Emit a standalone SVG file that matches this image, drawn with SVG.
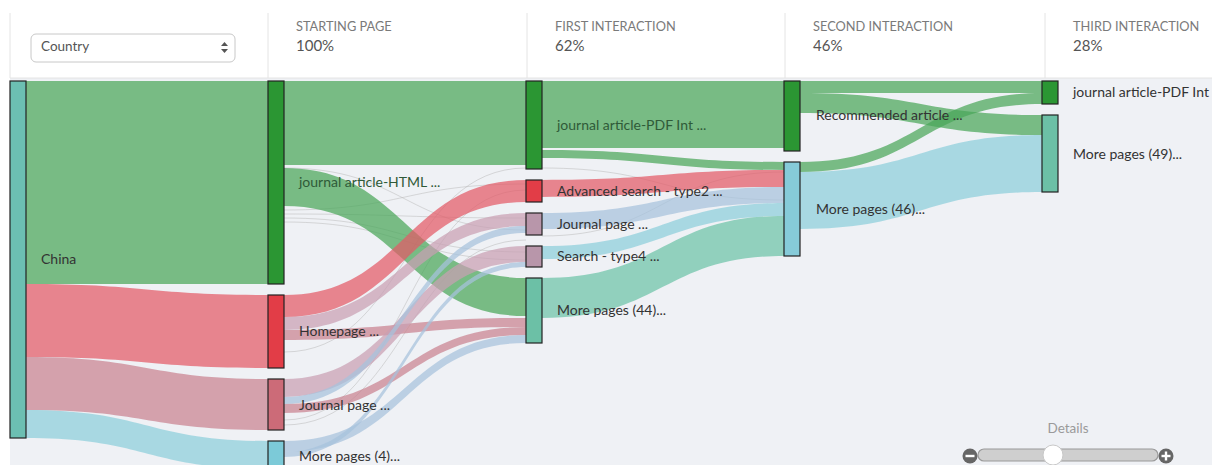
<svg xmlns="http://www.w3.org/2000/svg" width="1212" height="465" viewBox="0 0 1212 465">
<style>
.hdr{font-family:Lato,"Open Sans",sans-serif;font-size:12.8px;fill:#7a7a7a}
.pct{font-family:Lato,"Open Sans",sans-serif;font-size:15px;fill:#555}
.lbl{font-family:Lato,"Open Sans",sans-serif;font-size:14px;fill:#333}
.lblg{font-family:Lato,"Open Sans",sans-serif;font-size:14px;fill:#2f5a38}
.node{stroke:#222;stroke-width:1.2}
.sep{stroke:#e4e4e4;stroke-width:1}
.lk{fill-opacity:0.72;stroke:none}
.g{fill:#4aa659}
.r{fill:#e35a66}
.m{fill:#c98290}
.mv{fill:#c9a0b3}
.b{fill:#8ccfdb}
.sb{fill:#a6c2dc}
.t{fill:#6cc3a8}
.thin{fill:none;stroke:#b8b8b8;stroke-width:1;stroke-opacity:0.5}
</style>
<rect x="0" y="0" width="1212" height="465" fill="#ffffff"/>
<rect x="10" y="78" width="1202" height="387" fill="#eff1f5"/>
<line class="sep" x1="10" y1="13" x2="10" y2="78"/>
<line class="sep" x1="268" y1="13" x2="268" y2="78"/>
<line class="sep" x1="527" y1="13" x2="527" y2="78"/>
<line class="sep" x1="785" y1="13" x2="785" y2="78"/>
<line class="sep" x1="1045" y1="13" x2="1045" y2="78"/>
<line class="sep" x1="10" y1="78" x2="1212" y2="78"/>

<g id="country-select">
<rect x="31" y="34" width="204" height="28" rx="5" fill="#fff" stroke="#c8c8c8"/>
<text class="lbl" x="41" y="51" style="fill:#555;font-size:13.5px">Country</text>
<path d="M221,46 L224.5,42 L228,46 Z M221,49 L224.5,53 L228,49 Z" fill="#555"/>
</g>

<g id="headers">
<text class="hdr" x="296" y="31">STARTING PAGE</text>
<text class="pct" x="296" y="51">100%</text>
<text class="hdr" x="555" y="31">FIRST INTERACTION</text>
<text class="pct" x="555" y="51">62%</text>
<text class="hdr" x="813" y="31">SECOND INTERACTION</text>
<text class="pct" x="813" y="51">46%</text>
<text class="hdr" x="1073" y="31">THIRD INTERACTION</text>
<text class="pct" x="1073" y="51">28%</text>
</g>

<g id="links">
<!-- level 0 to 1 -->
<path class="lk g" d="M26,81 L268,81 L268,284 L26,284 Z"/>
<path class="lk r" d="M26,284 C147,284 147,295 268,295 L268,368 C147,368 147,357 26,357 Z"/>
<path class="lk m" d="M26,357 C147,357 147,379 268,379 L268,430 C147,430 147,410 26,410 Z"/>
<path class="lk b" d="M26,410 C147,410 147,441 268,441 L268,469 C147,469 147,438 26,438 Z"/>
<!-- level 1 to 2 -->
<path class="thin" d="M284,210 C405,210 405,184 526,184"/>
<path class="thin" d="M284,214 C405,214 405,218 526,218"/>
<path class="thin" d="M284,218 C405,218 405,252 526,252"/>
<path class="thin" d="M284,168 C405,168 405,230 526,230"/>
<path class="thin" d="M284,222 C405,222 405,260 526,260"/>
<path class="thin" d="M284,352 C405,352 405,168 526,168"/>
<path class="thin" d="M284,420 C405,420 405,190 526,190"/>
<path class="thin" d="M284,425 C405,425 405,240 526,240"/>
<path class="lk g" d="M284,81 L526,81 L526,165 L284,165 Z"/>
<path class="lk g" d="M284,168 C405,168 405,278 526,278 L526,316 C405,316 405,206 284,206 Z"/>
<path class="lk r" d="M284,295 C405,295 405,180 526,180 L526,202 C405,202 405,317 284,317 Z"/>
<path class="lk mv" d="M284,317 C405,317 405,213 526,213 L526,226 C405,226 405,330 284,330 Z"/>
<path class="lk m" d="M284,330 C405,330 405,318 526,318 L526,327 C405,327 405,340 284,340 Z"/>
<path class="lk mv" d="M284,379 C405,379 405,246 526,246 L526,262 C405,262 405,397 284,397 Z"/>
<path class="lk sb" d="M284,397 C405,397 405,226 526,226 L526,233 C405,233 405,404 284,404 Z"/>
<path class="lk m" d="M284,404 C405,404 405,327 526,327 L526,335 C405,335 405,413 284,413 Z"/>
<path class="lk sb" d="M284,441 C405,441 405,335 526,335 L526,343 C405,343 405,452 284,452 Z"/>
<path class="lk sb" d="M284,452 C405,452 405,262 526,262 L526,267 C405,267 405,457 284,457 Z"/>
<!-- level 2 to 3 -->
<path class="thin" d="M542,168 C663,168 663,200 784,200"/>
<path class="thin" d="M542,236 C663,236 663,172 784,172"/>
<path class="lk g" d="M542,81 L784,81 L784,148 L542,148 Z"/>
<path class="lk g" d="M542,150 C663,150 663,162 784,162 L784,170 C663,170 663,158 542,158 Z"/>
<path class="lk r" d="M542,180 C663,180 663,170 784,170 L784,187 C663,187 663,197 542,197 Z"/>
<path class="lk sb" d="M542,213 C663,213 663,187 784,187 L784,203 C663,203 663,229 542,229 Z"/>
<path class="lk b" d="M542,246 C663,246 663,203 784,203 L784,216 C663,216 663,259 542,259 Z"/>
<path class="lk t" d="M542,278 C663,278 663,216 784,216 L784,256 C663,256 663,318 542,318 Z"/>
<!-- level 3 to 4 -->
<path class="lk g" d="M800,81 L1042,81 L1042,93 L800,93 Z"/>
<path class="lk g" d="M800,93 C921,93 921,115 1042,115 L1042,135 C921,135 921,113 800,113 Z"/>
<path class="lk b" d="M800,172 C921,172 921,135 1042,135 L1042,192 C921,192 921,229 800,229 Z"/>
<path class="lk g" d="M800,162 C921,162 921,93 1042,93 L1042,104 C921,104 921,172 800,172 Z"/>
</g>

<g id="node-china"><rect class="node" x="10" y="81" width="16" height="357" fill="#6cbfb2"/><text class="lbl" x="41" y="264">China</text></g>

<g id="node-html"><rect class="node" x="268" y="81" width="16" height="203" fill="#2b9633"/><text class="lblg" x="299" y="187">journal article-HTML ...</text></g>
<g id="node-homepage"><rect class="node" x="268" y="295" width="16" height="73" fill="#e23d47"/><text class="lbl" x="299" y="336">Homepage ...</text></g>
<g id="node-journal1"><rect class="node" x="268" y="379" width="16" height="51" fill="#cc6b78"/><text class="lbl" x="299" y="410">Journal page ...</text></g>
<g id="node-more4"><rect class="node" x="268" y="441" width="16" height="30" fill="#7ccad8"/><text class="lbl" x="299" y="461">More pages (4)...</text></g>

<g id="node-pdf2"><rect class="node" x="526" y="81" width="16" height="88" fill="#2b9633"/><text class="lblg" x="557" y="130">journal article-PDF Int ...</text></g>
<g id="node-adv"><rect class="node" x="526" y="180" width="16" height="22" fill="#e23d47"/><text class="lbl" x="557" y="196">Advanced search - type2 ...</text></g>
<g id="node-journal2"><rect class="node" x="526" y="213" width="16" height="22" fill="#b896aa"/><text class="lbl" x="557" y="229">Journal page ...</text></g>
<g id="node-search4"><rect class="node" x="526" y="246" width="16" height="21" fill="#b896aa"/><text class="lbl" x="557" y="261">Search - type4 ...</text></g>
<g id="node-more44"><rect class="node" x="526" y="278" width="16" height="65" fill="#6cc0a6"/><text class="lbl" x="557" y="315">More pages (44)...</text></g>

<g id="node-rec"><rect class="node" x="784" y="81" width="16" height="70" fill="#2b9633"/><text class="lbl" x="816" y="120">Recommended article ...</text></g>
<g id="node-more46"><rect class="node" x="784" y="162" width="16" height="94" fill="#86cbd9"/><text class="lbl" x="816" y="214">More pages (46)...</text></g>

<g id="node-pdf4"><rect class="node" x="1042" y="81" width="16" height="23" fill="#2b9633"/><text class="lbl" x="1073" y="97">journal article-PDF Int</text></g>
<g id="node-more49"><rect class="node" x="1042" y="115" width="16" height="77" fill="#6cc0a6"/><text class="lbl" x="1073" y="159">More pages (49)...</text></g>

<g id="details-slider">
<text class="lbl" x="1068" y="433" text-anchor="middle" style="fill:#9a9a9a;font-size:13.5px">Details</text>
<rect x="978" y="449" width="180" height="12" rx="6" fill="#cfcfcf" stroke="#9a9a9a" stroke-width="1.2"/>
<circle cx="970" cy="456" r="7.5" fill="#666"/>
<rect x="965.5" y="454.8" width="9" height="2.4" fill="#fff"/>
<circle cx="1166" cy="456" r="7.5" fill="#666"/>
<rect x="1161.5" y="454.8" width="9" height="2.4" fill="#fff"/>
<rect x="1164.8" y="451.5" width="2.4" height="9" fill="#fff"/>
<circle cx="1053" cy="455" r="10" fill="#fff" stroke="#c8c8c8" stroke-width="1"/>
</g>
</svg>
